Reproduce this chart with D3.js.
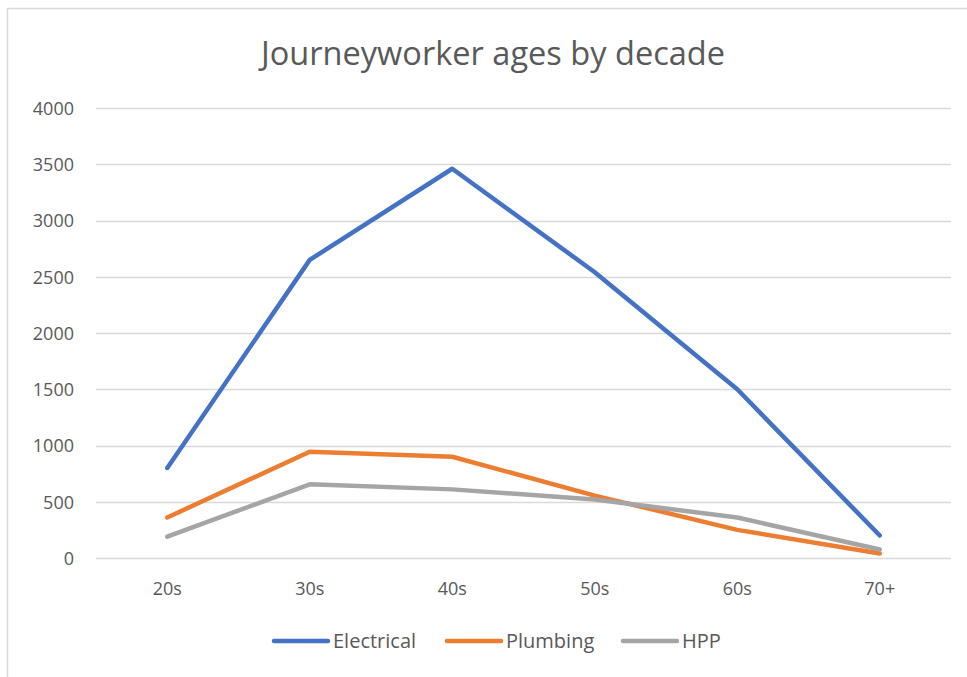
<!DOCTYPE html>
<html><head><meta charset="utf-8">
<script src="https://cdn.jsdelivr.net/npm/d3@7"></script>
<style>html,body{margin:0;padding:0;background:#fff;}svg{display:block;}</style>
</head><body>
<svg id="chart" width="967" height="677"></svg>
<script>
const categories = ["20s","30s","40s","50s","60s","70+"];
const electrical = [800, 2650, 3460, 2540, 1500, 200];
const plumbing   = [360, 945, 900, 555, 250, 40];
const hpp        = [190, 655, 610, 520, 360, 75];
const yTicks = [0, 500, 1000, 1500, 2000, 2500, 3000, 3500, 4000];
const seriesNames = ["Electrical","Plumbing","HPP"];
const seriesColors = ["#4472C4","#ED7D31","#A5A5A5"];
const series = [electrical, plumbing, hpp].map((v,i)=>({name:seriesNames[i], color:seriesColors[i], values:v}));

const svg = d3.select("#chart");
const font = "'Open Sans', 'Liberation Sans', sans-serif";
const txt = "#595959";

// chart area border
svg.append("rect").attr("x",7.5).attr("y",8.5).attr("width",1000).attr("height",1000)
  .attr("fill","#fff").attr("stroke","#D9D9D9").attr("stroke-width",1.5);

const x = d3.scaleBand().domain(categories).range([96, 951]);
const y = d3.scaleLinear().domain([0, 4000]).range([558, 108]);

// gridlines
svg.append("g").selectAll("line").data(yTicks).join("line")
  .attr("x1",96).attr("x2",951)
  .attr("y1",d=>Math.round(y(d))+0.5).attr("y2",d=>Math.round(y(d))+0.5)
  .attr("stroke","#D9D9D9").attr("stroke-width",1.5);

// y axis labels
const yAxis = d3.axisLeft(y).tickValues(yTicks).tickSize(0).tickPadding(0).tickFormat(d3.format("d"));
const gy = svg.append("g").attr("transform","translate(74,0)").call(yAxis);
gy.select(".domain").remove();
gy.selectAll("text").attr("font-family",font).attr("font-size",18).attr("fill",txt).attr("dy","0.35em");

// x axis labels
const xAxis = d3.axisBottom(x).tickSize(0).tickPadding(0);
const gx = svg.append("g").attr("transform","translate(0,0)").call(xAxis);
gx.select(".domain").remove();
gx.selectAll("text").attr("font-family",font).attr("font-size",18).attr("fill",txt).attr("y",595).attr("dy",null);

// lines
const line = d3.line().x((d,i)=>x(categories[i]) + x.bandwidth()/2).y(d=>y(d));
svg.append("g").selectAll("path").data(series).join("path")
  .attr("d",d=>line(d.values)).attr("fill","none")
  .attr("stroke",d=>d.color).attr("stroke-width",4.5)
  .attr("stroke-linecap","round").attr("stroke-linejoin","round");

// title
const title = svg.append("text").attr("x",493).attr("y",65).attr("text-anchor","middle")
  .attr("font-family",font).attr("font-size",32).attr("fill",txt)
  .text("Journeyworker ages by decade");
title.attr("textLength",464).attr("lengthAdjust","spacingAndGlyphs");

// legend
const legendX = [274, 447, 623];
const lg = svg.append("g").selectAll("g").data(series).join("g")
  .attr("transform",(d,i)=>`translate(${legendX[i]},641)`);
lg.append("line").attr("x1",0).attr("x2",54).attr("y1",0).attr("y2",0)
  .attr("stroke",d=>d.color).attr("stroke-width",4.5).attr("stroke-linecap","round");
lg.append("text").attr("x",59).attr("y",0).attr("dy","0.35em")
  .attr("font-family",font).attr("font-size",20).attr("fill",txt).text(d=>d.name);
</script>
</body></html>
